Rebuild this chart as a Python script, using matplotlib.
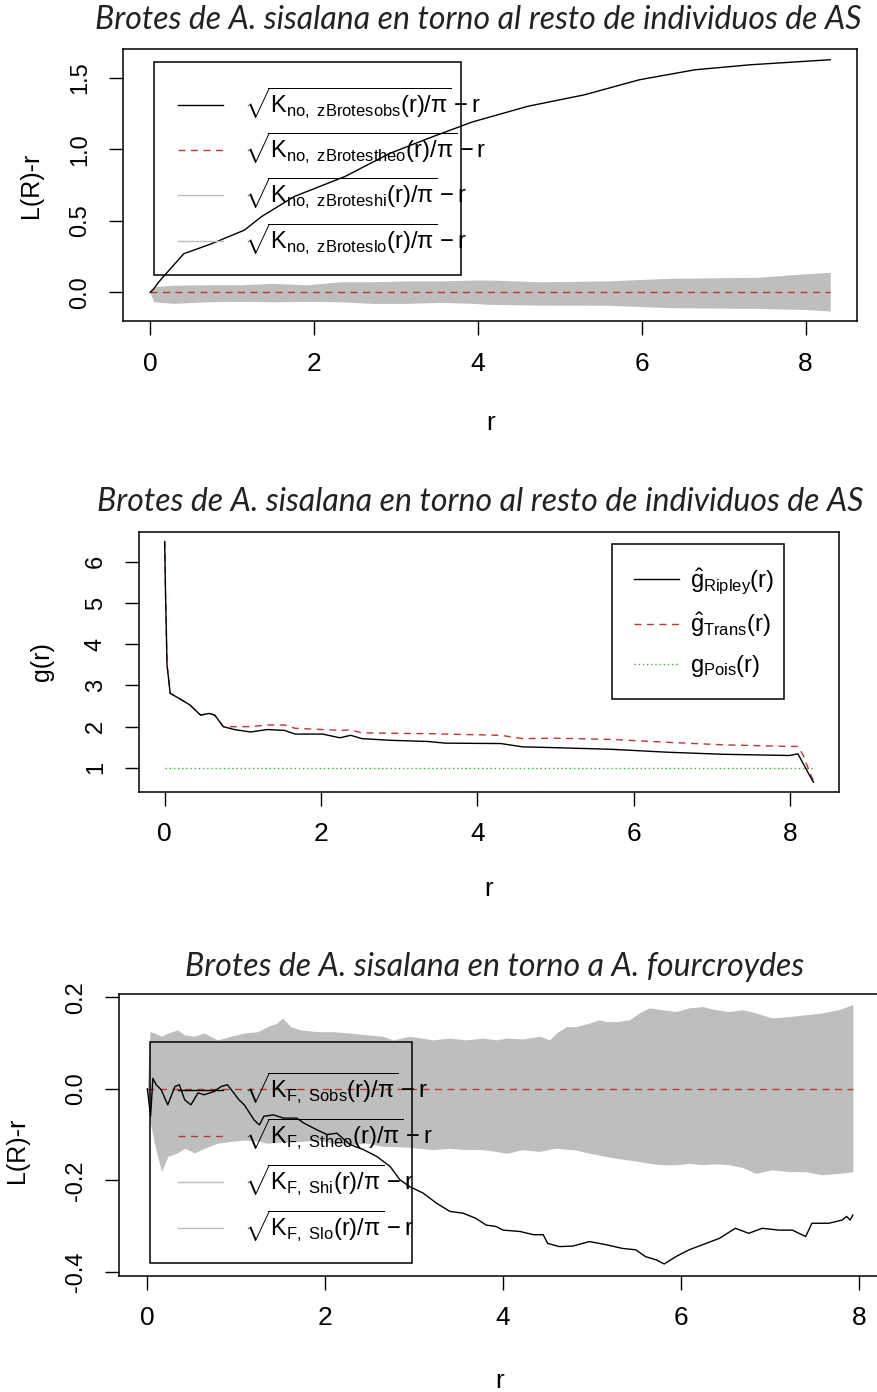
import numpy as np
import matplotlib
matplotlib.use("Agg")
import matplotlib.pyplot as plt
from matplotlib.lines import Line2D
from matplotlib.patches import Rectangle

plt.rcParams["font.family"] = ["Liberation Sans", "DejaVu Sans"]
plt.rcParams["mathtext.fontset"] = "custom"
plt.rcParams["mathtext.rm"] = "Liberation Sans"
plt.rcParams["mathtext.it"] = "Liberation Sans"
plt.rcParams["mathtext.bf"] = "Liberation Sans:bold"
plt.rcParams["axes.unicode_minus"] = False

# --- panel 1: L(r)-r, brotes vs resto de AS ---
top_r = [0, 0.05, 0.1, 0.2, 0.41, 0.75, 1.15, 1.36, 1.76, 2.38, 2.92, 3.46,
         3.93, 4.61, 5.3, 5.97, 6.65, 7.33, 8.3]
top_obs = [0, 0.03, 0.07, 0.135, 0.27, 0.34, 0.435, 0.53, 0.67, 0.81, 0.97,
           1.09, 1.19, 1.30, 1.38, 1.485, 1.555, 1.59, 1.625]
top_env_r = [0, 0.04, 0.28, 0.69, 1.1, 1.5, 1.91, 2.32, 2.72, 3.13, 3.54,
             3.94, 4.15, 4.76, 5.57, 6.34, 7.4, 8.0, 8.3]
top_hi = [0, 0.04, 0.05, 0.053, 0.053, 0.063, 0.053, 0.074, 0.074, 0.08,
          0.08, 0.086, 0.086, 0.074, 0.08, 0.098, 0.105, 0.13, 0.14]
top_lo = [0, -0.066, -0.077, -0.066, -0.063, -0.066, -0.063, -0.066, -0.077,
          -0.077, -0.07, -0.077, -0.084, -0.089, -0.09, -0.107, -0.112, -0.12,
          -0.13]

# --- panel 2: g(r) ---
mid_r = [0, 0.01, 0.03, 0.07, 0.18, 0.32, 0.46, 0.57, 0.64, 0.75, 0.89, 1.1,
         1.31, 1.53, 1.67, 2.02, 2.24, 2.38, 2.52, 2.88, 3.37, 3.59, 4.3, 4.58,
         5.0, 5.72, 6.43, 7.14, 7.99, 8.1, 8.17, 8.24, 8.3]
g_ripley = [6.49, 5.3, 3.5, 2.81, 2.69, 2.53, 2.28, 2.32, 2.28, 2.0, 1.93,
            1.87, 1.93, 1.91, 1.82, 1.82, 1.73, 1.79, 1.71, 1.67, 1.64, 1.60,
            1.59, 1.51, 1.49, 1.45, 1.38, 1.33, 1.30, 1.34, 1.10, 0.85, 0.65]
g_trans = [6.49, 5.3, 3.5, 2.81, 2.69, 2.53, 2.28, 2.32, 2.28, 2.0, 2.0, 2.0,
           2.04, 2.04, 1.96, 1.93, 1.91, 1.92, 1.85, 1.84, 1.83, 1.82, 1.79,
           1.71, 1.72, 1.69, 1.62, 1.56, 1.52, 1.52, 1.3, 0.95, 0.68]
g_pois = [1.0] * len(mid_r)

# --- panel 3: L(r)-r, brotes vs A. fourcroydes ---
bot_r = [0, 0.015, 0.037, 0.063, 0.1, 0.156, 0.23, 0.31, 0.36, 0.42, 0.49,
         0.57, 0.64, 0.75, 0.83, 0.9, 0.96, 1.03, 1.09, 1.14, 1.2, 1.26, 1.31,
         1.42, 1.53, 1.68, 1.76, 1.91, 2.02, 2.13, 2.28, 2.43, 2.58, 2.73,
         2.84, 2.95, 3.1, 3.25, 3.4, 3.55, 3.69, 3.81, 3.92, 4.0, 4.19, 4.34,
         4.45, 4.5, 4.63, 4.78, 4.97, 5.16, 5.34, 5.49, 5.6, 5.72, 5.81, 5.94,
         6.09, 6.24, 6.43, 6.61, 6.76, 6.91, 7.1, 7.25, 7.4, 7.47, 7.66, 7.81,
         7.86, 7.9, 7.93]
bot_obs = [0, -0.024, -0.06, 0.023, 0.009, -0.002, -0.035, 0.005, 0.009,
           -0.024, -0.035, -0.009, -0.013, -0.006, 0.005, 0.009, -0.006, -0.024,
           -0.035, -0.05, -0.068, -0.079, -0.06, -0.057, -0.064, -0.064, -0.075,
           -0.09, -0.1, -0.097, -0.122, -0.133, -0.148, -0.17, -0.199, -0.214,
           -0.228, -0.25, -0.268, -0.272, -0.283, -0.298, -0.301, -0.309,
           -0.312, -0.319, -0.319, -0.338, -0.345, -0.344, -0.334, -0.341,
           -0.349, -0.352, -0.367, -0.374, -0.383, -0.367, -0.352, -0.341,
           -0.327, -0.305, -0.316, -0.305, -0.309, -0.309, -0.323, -0.294,
           -0.294, -0.287, -0.279, -0.287, -0.276]
bot_env_r = [0, 0.03, 0.08, 0.16, 0.23, 0.34, 0.42, 0.53, 0.64, 0.79, 0.94,
             1.09, 1.24, 1.35, 1.46, 1.52, 1.61, 1.72, 1.91, 2.09, 2.28, 2.47,
             2.65, 2.76, 2.95, 3.21, 3.4, 3.58, 3.77, 3.92, 4.04, 4.22, 4.41,
             4.52, 4.6, 4.71, 4.82, 4.97, 5.08, 5.16, 5.27, 5.42, 5.53, 5.64,
             5.79, 5.94, 6.09, 6.24, 6.39, 6.54, 6.69, 6.84, 7.02, 7.21, 7.4,
             7.58, 7.77, 7.93]
bot_hi = [0, 0.125, 0.122, 0.115, 0.122, 0.129, 0.118, 0.115, 0.122, 0.107,
          0.115, 0.122, 0.125, 0.136, 0.144, 0.155, 0.136, 0.129, 0.125, 0.125,
          0.122, 0.118, 0.115, 0.107, 0.115, 0.107, 0.111, 0.107, 0.111, 0.107,
          0.111, 0.109, 0.115, 0.107, 0.122, 0.136, 0.136, 0.144, 0.151, 0.147,
          0.147, 0.151, 0.166, 0.177, 0.173, 0.169, 0.177, 0.18, 0.173, 0.169,
          0.173, 0.166, 0.155, 0.158, 0.162, 0.166, 0.173, 0.184]
bot_lo = [0, -0.07, -0.12, -0.181, -0.148, -0.14, -0.13, -0.14, -0.13, -0.119,
          -0.115, -0.112, -0.114, -0.119, -0.117, -0.115, -0.115, -0.115,
          -0.112, -0.119, -0.122, -0.119, -0.126, -0.126, -0.128, -0.133, -0.13,
          -0.133, -0.133, -0.137, -0.141, -0.133, -0.137, -0.132, -0.13, -0.132,
          -0.134, -0.141, -0.145, -0.148, -0.152, -0.156, -0.159, -0.163,
          -0.166, -0.166, -0.163, -0.166, -0.164, -0.166, -0.172, -0.185,
          -0.177, -0.181, -0.181, -0.188, -0.185, -0.181]

titles = ["Brotes de A. sisalana en torno al resto de individuos de AS",
          "Brotes de A. sisalana en torno al resto de individuos de AS",
          "Brotes de A. sisalana en torno a A. fourcroydes"]

GREY = "#bebebe"
RED = "#bf3535"
GREEN = "#2db82d"
DASH = (0, (5, 4))
DOT = (0, (1, 2))

fig = plt.figure(figsize=(8.77, 13.92), dpi=100)
ax1 = fig.add_axes([0.1403, 0.7694, 0.8374, 0.1954])
ax2 = fig.add_axes([0.1582, 0.4312, 0.7990, 0.1868])
ax3 = fig.add_axes([0.1358, 0.0836, 0.8688, 0.2022])


def style(ax, xlim, ylim, yticks, yfmt, ylabel, ylab_x, ylab_y=0.5):
    ax.set_xlim(*xlim)
    ax.set_ylim(*ylim)
    ax.set_xticks([0, 2, 4, 6, 8])
    ax.set_yticks(yticks)
    ax.set_yticklabels([yfmt.format(v) for v in yticks])
    for s in ax.spines.values():
        s.set_linewidth(1.1)
    ax.tick_params(axis="both", direction="out", length=10, width=1.0)
    ax.tick_params(axis="x", labelsize=19, pad=12)
    ax.tick_params(axis="y", labelsize=17, pad=13, labelrotation=90)
    for lab in ax.get_yticklabels():
        lab.set_va("center")
    ax.set_xlabel("r", fontsize=19)
    ax.xaxis.set_label_coords(0.5, -0.375)
    ax.xaxis.label.set_va("center")
    ax.set_ylabel(ylabel, fontsize=18)
    ax.yaxis.set_label_coords(ylab_x, ylab_y)
    ax.yaxis.label.set_va("center")


def legend(ax, handles, labels, box, size, pad, textpad, spacing):
    x0, y0, x1, y1 = box
    leg = ax.legend(handles, labels, loc="upper left", bbox_to_anchor=(x0, y1),
                    borderaxespad=0, frameon=False, fontsize=size,
                    handlelength=1.9, handletextpad=textpad, borderpad=pad,
                    labelspacing=spacing)
    ax.add_patch(Rectangle((x0, y0), x1 - x0, y1 - y0, transform=ax.transAxes,
                           fill=False, ec="black", lw=1.1, zorder=6))
    return leg


def title(y, text, x):
    fig.text(x, y, text, ha="center", va="center", fontsize=23,
             family="Lato", style="italic", color="#222222")


# panel 1
ax1.fill_between(top_env_r, top_lo, top_hi, color=GREY, lw=0, zorder=1)
ax1.plot(top_r, [0] * len(top_r), color=RED, lw=1.0, ls=DASH, zorder=2)
ax1.plot(top_r, top_obs, color="black", lw=1.0, zorder=3)
style(ax1, (-0.332, 8.632), (-0.2, 1.70), [0.0, 0.5, 1.0, 1.5], "{:.1f}",
      "L(R)-r", -0.1255)
legend(ax1,
       [Line2D([], [], color="black", lw=1.0),
        Line2D([], [], color=RED, lw=1.0, ls=DASH),
        Line2D([], [], color=GREY, lw=1.0),
        Line2D([], [], color=GREY, lw=1.0)],
       [r"$\sqrt{K_{no,\ zBrotesobs}(r)/\pi}-r$",
        r"$\sqrt{K_{no,\ zBrotestheo}(r)/\pi}-r$",
        r"$\sqrt{K_{no,\ zBroteshi}(r)/\pi}-r$",
        r"$\sqrt{K_{no,\ zBroteslo}(r)/\pi}-r$"],
       (0.0422, 0.169, 0.4602, 0.953), 17, 1.0, 0.9, 0.42)
title(0.9856, titles[0], 0.545)

# panel 2
ax2.plot(mid_r, g_pois, color=GREEN, lw=1.0, ls=DOT, zorder=1)
ax2.plot(mid_r, g_trans, color=RED, lw=1.0, ls=DASH, zorder=2)
ax2.plot(mid_r, g_ripley, color="black", lw=1.0, zorder=3)
style(ax2, (-0.332, 8.632), (0.42, 6.73), [1, 2, 3, 4, 5, 6], "{:d}",
      "g(r)", -0.138)
legend(ax2,
       [Line2D([], [], color="black", lw=1.0),
        Line2D([], [], color=RED, lw=1.0, ls=DASH),
        Line2D([], [], color=GREEN, lw=1.0, ls=DOT)],
       [r"$\hat{g}_{Ripley}(r)$", r"$\hat{g}_{Trans}(r)$",
        r"$g_{Pois}(r)$"],
       (0.675, 0.355, 0.9214, 0.9527), 17, 0.95, 0.45, 0.6)
title(0.6396, titles[1], 0.548)

# panel 3
ax3.fill_between(bot_env_r, bot_lo, bot_hi, color=GREY, lw=0, zorder=1)
ax3.plot(bot_env_r, [0] * len(bot_env_r), color=RED, lw=1.0, ls=DASH, zorder=2)
ax3.plot(bot_r, bot_obs, color="black", lw=1.0, zorder=3)
style(ax3, (-0.317, 8.247), (-0.4085, 0.207), [-0.4, -0.2, 0.0, 0.2],
      "{:.1f}", "L(R)-r", -0.134, 0.447)
legend(ax3,
       [Line2D([], [], color="black", lw=1.0),
        Line2D([], [], color=RED, lw=1.0, ls=DASH),
        Line2D([], [], color=GREY, lw=1.0),
        Line2D([], [], color=GREY, lw=1.0)],
       [r"$\sqrt{K_{F,\ Sobs}(r)/\pi}-r$",
        r"$\sqrt{K_{F,\ Stheo}(r)/\pi}-r$",
        r"$\sqrt{K_{F,\ Shi}(r)/\pi}-r$",
        r"$\sqrt{K_{F,\ Slo}(r)/\pi}-r$"],
       (0.0406, 0.044, 0.3844, 0.829), 17, 1.2, 0.9, 0.45)
title(0.3055, titles[2], 0.564)

fig.savefig("out.png", dpi=100)
